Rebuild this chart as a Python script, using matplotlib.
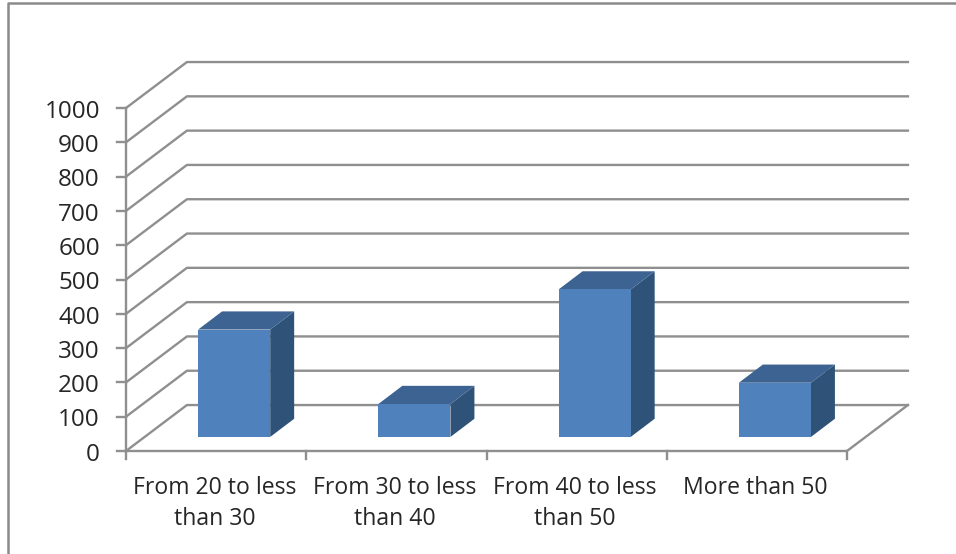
import matplotlib
matplotlib.use("Agg")
import matplotlib.pyplot as plt
from matplotlib.lines import Line2D
from matplotlib.patches import Polygon

categories = ["From 20 to less\nthan 30", "From 30 to less\nthan 40",
              "From 40 to less\nthan 50", "More than 50"]
values = [313, 96, 430, 158]
y_ticks = [0, 100, 200, 300, 400, 500, 600, 700, 800, 900, 1000]

GRID = "#8f8f8f"
TEXT = "#262626"
FRONT = "#4f81bd"
TOP = "#3c6392"
SIDE = "#2f5279"

# fake 3d depth of the walls and of the bars, in data units
wall_dx, wall_dy = 0.338, 134
bar_dx, bar_dy = 0.133, 53
base_dx, base_dy = 0.1, 41
bar_w = 0.4

plt.rcParams["font.family"] = ["Open Sans", "DejaVu Sans"]

fig = plt.figure(figsize=(9.56, 5.54), dpi=100)
ax = fig.add_axes([126 / 956, 103 / 554, 721 / 956, 343 / 554])
ax.set_xlim(0, 4)
ax.set_ylim(0, 1000)
ax.axis("off")

# grid on the back wall with the diagonals down the side wall
for v in y_ticks:
    ax.plot([0, wall_dx, 4 + wall_dx], [v, v + wall_dy, v + wall_dy],
            color=GRID, lw=1.7, clip_on=False, zorder=1)
    ax.plot([-0.05, 0], [v, v], color=GRID, lw=1.7, clip_on=False, zorder=1)
    ax.text(-0.145, v - 11, str(v), ha="right", va="center", fontsize=17.5, color=TEXT)

# floor and category axis
ax.plot([0, 0], [0, 1000], color=GRID, lw=1.7, clip_on=False, zorder=1)
ax.plot([0, 4, 4 + wall_dx], [0, 0, wall_dy], color=GRID, lw=1.7, clip_on=False, zorder=1)
for i in range(5):
    ax.plot([i, i], [0, -24], color=GRID, lw=1.7, clip_on=False, zorder=1)

for i, (label, v) in enumerate(zip(categories, values)):
    x0 = i + 0.3 + base_dx
    x1 = x0 + bar_w
    y0 = base_dy
    y1 = base_dy + v
    ax.add_patch(Polygon([(x1, y0), (x1 + bar_dx, y0 + bar_dy), (x1 + bar_dx, y1 + bar_dy), (x1, y1)],
                         closed=True, fc=SIDE, ec="none", clip_on=False, zorder=3))
    ax.add_patch(Polygon([(x0, y1), (x0 + bar_dx, y1 + bar_dy), (x1 + bar_dx, y1 + bar_dy), (x1, y1)],
                         closed=True, fc=TOP, ec="none", clip_on=False, zorder=3))
    ax.add_patch(Polygon([(x0, y0), (x1, y0), (x1, y1), (x0, y1)],
                         closed=True, fc=FRONT, ec="none", clip_on=False, zorder=4))
    ax.text(i + 0.49, -72, label, ha="center", va="top", fontsize=16.6,
            color=TEXT, linespacing=1.43)

# outer chart border, only left and top are in the crop
fig.add_artist(Line2D([7.5 / 956, 7.5 / 956, 1], [0, 551 / 554, 551 / 554],
                      color="#8a8a8a", lw=1.8, transform=fig.transFigure))

fig.savefig("out.png", dpi=100)
